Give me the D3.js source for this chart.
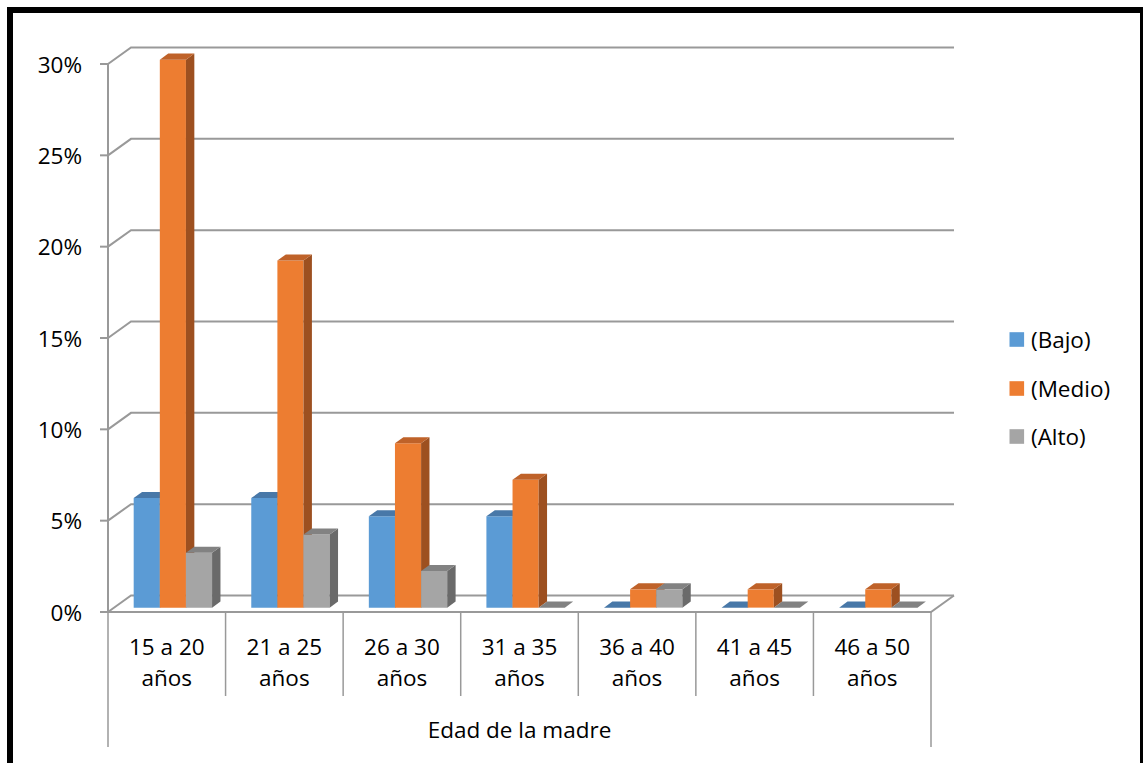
<!DOCTYPE html>
<html>
<head>
<meta charset="utf-8">
<script src="https://cdn.jsdelivr.net/npm/d3@7"></script>
<style>
  html, body { margin: 0; padding: 0; background: #fff; }
  svg { display: block; }
  text { font-family: "Open Sans", "Noto Sans", sans-serif; fill: #000; }
</style>
</head>
<body>
<svg id="chart" width="1143" height="763"></svg>
<script>
// ---- Data ----
const categories = ["15 a 20 años", "21 a 25 años", "26 a 30 años", "31 a 35 años", "36 a 40 años", "41 a 45 años", "46 a 50 años"];
const seriesNames = ["(Bajo)", "(Medio)", "(Alto)"];
const bajo  = [0.06, 0.06, 0.05, 0.05, 0.00, 0.00, 0.00];
const medio = [0.30, 0.19, 0.09, 0.07, 0.01, 0.01, 0.01];
const alto  = [0.03, 0.04, 0.02, 0.00, 0.01, 0.00, 0.00];
const yTicks = [0, 0.05, 0.10, 0.15, 0.20, 0.25, 0.30];
const axisTitle = "Edad de la madre";

// ---- Styles ----
const colors = [
  { front: "#5B9BD5", top: "#4878A8", side: "#3F6A94" },
  { front: "#ED7D31", top: "#BF6229", side: "#9D5020" },
  { front: "#A5A5A5", top: "#828282", side: "#6A6A6A" }
];
const gridColor = "#999999";
const fontSize = 22.5;

const svg = d3.select("#chart");

// Frame
svg.append("rect").attr("x", 10).attr("y", 10).attr("width", 1133).attr("height", 800)
  .attr("fill", "none").attr("stroke", "#000").attr("stroke-width", 6);

// ---- Scales (front plane) ----
const x0 = d3.scaleBand().domain(categories).range([108, 931]).padding(0);
const x1 = d3.scaleBand().domain(seriesNames).range([0, x0.bandwidth()]).paddingInner(0).paddingOuter(0.75);
const y = d3.scaleLinear().domain([0, 0.30]).range([612, 64]);

// depth projection
const DX = 23, DY = -16.5;
function P(xf, v, d) { return [xf + d * DX, y(v) + d * DY]; }
const line = d3.line();

const g = svg.append("g");

// Gridlines: left-wall diagonal + back-wall horizontal
yTicks.forEach(v => {
  g.append("path")
    .attr("d", line([P(108, v, 0), P(108, v, 1), P(931, v, 1)]))
    .attr("fill", "none").attr("stroke", gridColor).attr("stroke-width", 2);
});
// Floor front and right edges
g.append("path")
  .attr("d", line([P(108, 0, 0), P(931, 0, 0), P(931, 0, 1)]))
  .attr("fill", "none").attr("stroke", gridColor).attr("stroke-width", 2);

// Vertical value axis line + ticks
g.append("line").attr("x1", 108).attr("x2", 108).attr("y1", y(0)).attr("y2", y(0.30))
  .attr("stroke", gridColor).attr("stroke-width", 2);
yTicks.forEach(v => {
  g.append("line").attr("x1", 100).attr("x2", 108).attr("y1", y(v)).attr("y2", y(v))
    .attr("stroke", gridColor).attr("stroke-width", 2);
  g.append("text").attr("x", 82).attr("y", y(v) + 8.5)
    .attr("text-anchor", "end").attr("font-size", fontSize)
    .text(d3.format(".0%")(v));
});

// Category separators
const bounds = categories.map(c => x0(c)).concat([x0(categories[categories.length - 1]) + x0.bandwidth()]);
bounds.forEach((bx, i) => {
  const outer = (i === 0 || i === bounds.length - 1);
  g.append("line").attr("x1", bx).attr("x2", bx).attr("y1", y(0)).attr("y2", outer ? 747 : 696)
    .attr("stroke", gridColor).attr("stroke-width", 1.5);
});

// Category labels
categories.forEach(c => {
  const idx = c.lastIndexOf(" ");
  const l1 = c.slice(0, idx), l2 = c.slice(idx + 1);
  const cx = x0(c) + x0.bandwidth() / 2;
  g.append("text").attr("x", cx).attr("y", 655).attr("text-anchor", "middle").attr("font-size", fontSize).text(l1);
  g.append("text").attr("x", cx).attr("y", 686).attr("text-anchor", "middle").attr("font-size", fontSize).text(l2);
});

// Axis title
g.append("text").attr("x", (108 + 931) / 2).attr("y", 738).attr("text-anchor", "middle")
  .attr("font-size", fontSize).text(axisTitle);

// ---- Bars ----
const seriesData = [bajo, medio, alto];
const D1 = 0.265, D2 = 0.63;
const bars = g.append("g");
categories.forEach((c, ci) => {
  seriesNames.forEach((s, si) => {
    const v = seriesData[si][ci];
    const xl = x0(c) + x1(s), xr = xl + x1.bandwidth();
    const col = colors[si];
    // front
    if (v > 0) {
      bars.append("path").attr("d", line([P(xl, 0, D1), P(xr, 0, D1), P(xr, v, D1), P(xl, v, D1)]) + "Z")
        .attr("fill", col.front);
      // side
      bars.append("path").attr("d", line([P(xr, 0, D1), P(xr, 0, D2), P(xr, v, D2), P(xr, v, D1)]) + "Z")
        .attr("fill", col.side);
    }
    // top
    bars.append("path").attr("d", line([P(xl, v, D1), P(xr, v, D1), P(xr, v, D2), P(xl, v, D2)]) + "Z")
      .attr("fill", col.top);
  });
});

// ---- Legend ----
const legendY = [339.5, 388.5, 436.5];
seriesNames.forEach((s, i) => {
  svg.append("rect").attr("x", 1009.5).attr("y", legendY[i] - 7.3).attr("width", 14.6).attr("height", 14.6)
    .attr("fill", colors[i].front);
  svg.append("text").attr("x", 1031).attr("y", legendY[i] + 8.3).attr("font-size", fontSize).text(s);
});
</script>
</body>
</html>
